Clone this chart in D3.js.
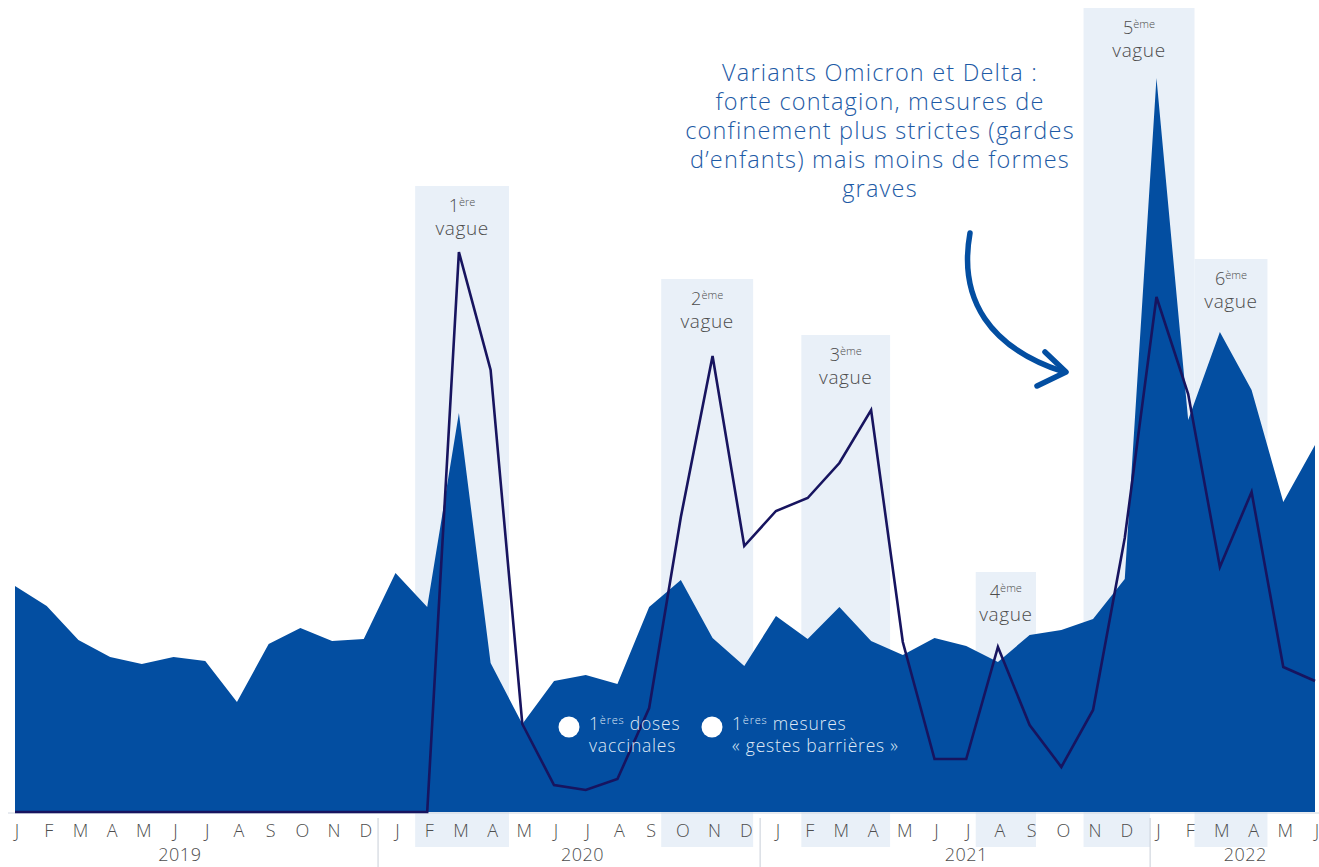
<!DOCTYPE html>
<html><head><meta charset="utf-8">
<script src="https://cdn.jsdelivr.net/npm/d3@7"></script>
<style>
html,body{margin:0;padding:0;background:#fff;}
svg{display:block;font-family:"Open Sans",sans-serif;}
</style></head>
<body>
<svg id="c" width="1319" height="867"></svg>
<script>
const months = ["J","F","M","A","M","J","J","A","S","O","N","D",
                "J","F","M","A","M","J","J","A","S","O","N","D",
                "J","F","M","A","M","J","J","A","S","O","N","D",
                "J","F","M","A","M","J"];
const years = [{label:"2019", pos:5.2, sep:null},{label:"2020", pos:17.9, sep:11.45},{label:"2021", pos:30.0, sep:23.5},{label:"2022", pos:38.8, sep:35.8}];
const areaValues = [226,206,172,155,148,155,151,110,168,184,171,173,
                    239,205,399,149,88,131,137,128,205,232,174,146,
                    196,173,205,171,157,174,166,150,177,182,193,233,
                    734,392,480,422,310,367];
const lineValues = [0,0,0,0,0,0,0,0,0,0,0,0,
                    0,0,560,442,88,27,22,33,104,295,456,266,
                    301,314,349,402,170,53,53,165,87,45,102,274,
                    515,418,245,320,145,131];
// waves: start/end in month-index units, top value
const waves = [
  {n:"1",sup:"ère", x0:12.62, x1:15.58, top:626, axis:[12.62,15.58]},
  {n:"2",sup:"ème", x0:20.38, x1:23.28, top:533, axis:[20.38,23.28]},
  {n:"3",sup:"ème", x0:24.8, x1:27.6, top:477, axis:[24.8,27.6]},
  {n:"4",sup:"ème", x0:30.3, x1:32.2, top:240, axis:[30.3,32.2]},
  {n:"5",sup:"ème", x0:33.7, x1:37.2, top:804, axis:[33.7,35.8]},
  {n:"6",sup:"ème", x0:37.2, x1:39.5, top:553, axis:[37.2,39.5]}
];
const annotation = ["Variants Omicron et Delta :","forte contagion, mesures de","confinement plus strictes (gardes","d’enfants) mais moins de formes","graves"];

const svg = d3.select("#c");
const x = d3.scaleLinear().domain([0, 41]).range([15, 1315]);
const y = d3.scaleLinear().domain([0, 800]).range([812, 12]);
const bandBottom = 847;

const blue = "#034ea1", navy = "#17145f", bandFill = "#e9f0f8", grey = "#4d4d4d";

// wave bands
svg.append("g").selectAll("rect").data(waves).join("rect")
  .attr("x", d => x(d.x0)).attr("width", d => x(d.x1) - x(d.x0))
  .attr("y", d => y(d.top)).attr("height", d => y(0) - y(d.top))
  .attr("fill", bandFill);
svg.append("g").selectAll("rect").data(waves).join("rect")
  .attr("x", d => x(d.axis[0])).attr("width", d => x(d.axis[1]) - x(d.axis[0]))
  .attr("y", y(0)).attr("height", bandBottom - y(0))
  .attr("fill", bandFill);

// baseline
svg.append("line").attr("x1", 8).attr("x2", 1319).attr("y1", y(0)+1).attr("y2", y(0)+1)
  .attr("stroke", "#cfd6e0").attr("stroke-width", 1);

// area
const idx = d3.range(areaValues.length);
svg.append("path").datum(idx)
  .attr("d", d3.area().x(i => x(i)).y0(y(0)).y1(i => y(areaValues[i])))
  .attr("fill", blue);

// line
svg.append("path").datum(idx)
  .attr("d", d3.line().x(i => x(i)).y(i => y(lineValues[i])))
  .attr("fill", "none").attr("stroke", navy).attr("stroke-width", 2.6).attr("stroke-linejoin", "miter");

// month labels
svg.append("g").selectAll("text").data(months).join("text")
  .attr("x", (d,i) => x(i) + 2).attr("y", 837)
  .attr("text-anchor", "middle").attr("font-size", 18).attr("font-weight", 300)
  .attr("fill", grey).text(d => d);

// year labels & separators
svg.append("g").selectAll("text").data(years).join("text")
  .attr("x", d => x(d.pos)).attr("y", 861).attr("text-anchor", "middle")
  .attr("font-size", 18).attr("font-weight", 300).attr("letter-spacing", 0.5)
  .attr("fill", grey).text(d => d.label);
svg.append("g").selectAll("line").data(years.filter(d => d.sep !== null)).join("line")
  .attr("x1", d => x(d.sep)).attr("x2", d => x(d.sep))
  .attr("y1", 818).attr("y2", 867).attr("stroke", "#c8ced8").attr("stroke-width", 1);

// wave labels
const wl = svg.append("g").selectAll("g").data(waves).join("g")
  .attr("transform", d => `translate(${(x(d.x0)+x(d.x1))/2},${y(d.top)})`);
const t1 = wl.append("text").attr("y", 26).attr("text-anchor", "middle").attr("fill", grey).attr("font-weight", 300);
t1.append("tspan").attr("font-size", 18).text(d => d.n);
t1.append("tspan").attr("font-size", 11).attr("dy", -6).text(d => d.sup);
wl.append("text").attr("y", 49).attr("text-anchor", "middle").attr("fill", grey)
  .attr("font-size", 19).attr("font-weight", 300).attr("letter-spacing", 0.6).text("vague");

// annotation
svg.append("g").selectAll("text").data(annotation).join("text")
  .attr("x", 880).attr("y", (d,i) => 81 + i*29)
  .attr("text-anchor", "middle").attr("font-size", 23.5).attr("font-weight", 300)
  .attr("letter-spacing", 1.2)
  .attr("fill", "#1d5aa5").text(d => d);

// arrow
svg.append("path").attr("d", "M970,233 C958,300 990,348 1064,372")
  .attr("fill", "none").attr("stroke", blue).attr("stroke-width", 5.5).attr("stroke-linecap", "round");
svg.append("path").attr("d", "M1045,352 L1066,372 L1037,386")
  .attr("fill", "none").attr("stroke", blue).attr("stroke-width", 5.5)
  .attr("stroke-linecap", "round").attr("stroke-linejoin", "round");

// legend markers
const legend = [
  {cx:569, lines:["doses","vaccinales"]},
  {cx:712, lines:["mesures","« gestes barrières »"]}
];
const lg = svg.append("g").selectAll("g").data(legend).join("g");
lg.append("circle").attr("cx", d => d.cx).attr("cy", 727).attr("r", 10.5).attr("fill", "#fff");
const lt = lg.append("text").attr("x", d => d.cx + 20).attr("y", 730).attr("fill", "#dfe8f5")
  .attr("font-weight", 300).attr("letter-spacing", 0.8);
lt.append("tspan").attr("font-size", 17.5).text("1");
lt.append("tspan").attr("font-size", 11).attr("dy", -6).text("ères");
lt.append("tspan").attr("font-size", 17.5).attr("dy", 6).text(d => " " + d.lines[0]);
lg.append("text").attr("x", d => d.cx + 20).attr("y", 752).attr("fill", "#dfe8f5")
  .attr("font-size", 17.5).attr("font-weight", 300).attr("letter-spacing", 0.8).text(d => d.lines[1]);
</script>
</body></html>
